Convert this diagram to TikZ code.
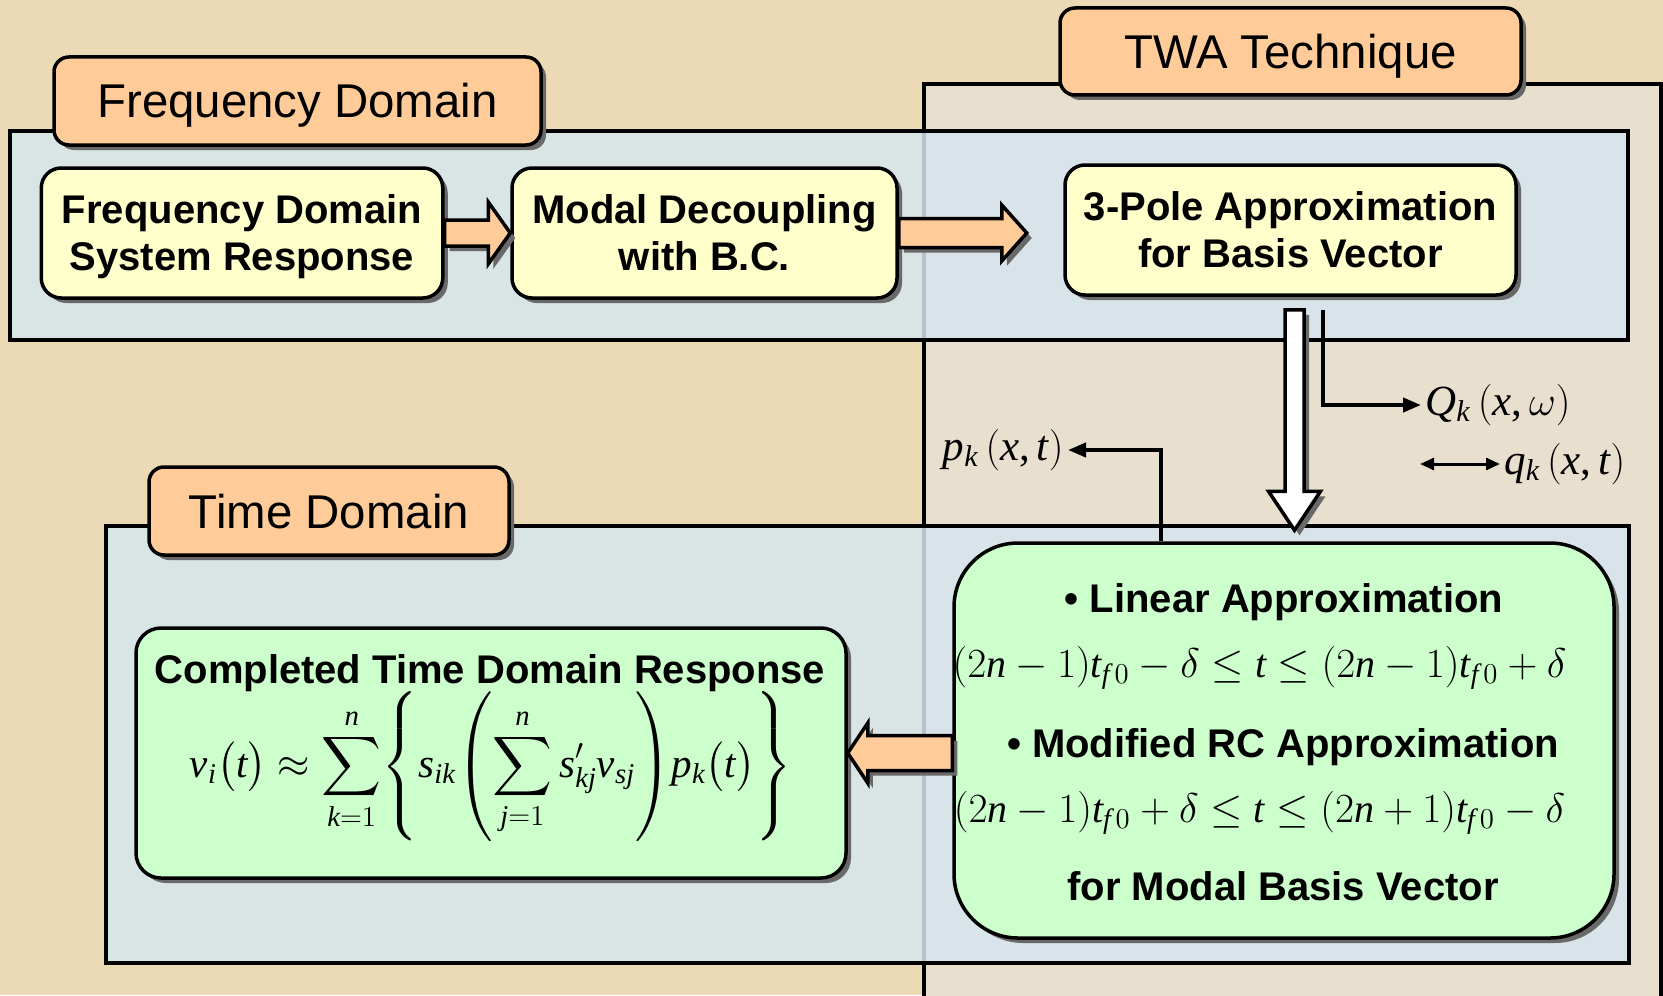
\documentclass[tikz,border=0pt]{standalone}
\usepackage{exscale}
\usepackage{fontspec}
\setmainfont{Liberation Sans}
\newfontfamily\tnr[NFSSFamily=tnr]{Liberation Serif}
\DeclareSymbolFont{tnrletters}{TU}{tnr}{m}{it}
\DeclareSymbolFont{tnrup}{TU}{tnr}{m}{n}
\DeclareMathSymbol{v}{\mathalpha}{tnrletters}{`v}
\DeclareMathSymbol{i}{\mathalpha}{tnrletters}{`i}
\DeclareMathSymbol{t}{\mathalpha}{tnrletters}{`t}
\DeclareMathSymbol{k}{\mathalpha}{tnrletters}{`k}
\DeclareMathSymbol{n}{\mathalpha}{tnrletters}{`n}
\DeclareMathSymbol{s}{\mathalpha}{tnrletters}{`s}
\DeclareMathSymbol{j}{\mathalpha}{tnrletters}{`j}
\DeclareMathSymbol{p}{\mathalpha}{tnrletters}{`p}
\DeclareMathSymbol{f}{\mathalpha}{tnrletters}{`f}
\DeclareMathSymbol{x}{\mathalpha}{tnrletters}{`x}
\DeclareMathSymbol{Q}{\mathalpha}{tnrletters}{`Q}
\DeclareMathSymbol{q}{\mathalpha}{tnrletters}{`q}
\DeclareMathSymbol{0}{\mathalpha}{tnrup}{`0}
\DeclareMathSymbol{1}{\mathalpha}{tnrup}{`1}
\DeclareMathSymbol{2}{\mathalpha}{tnrup}{`2}
\DeclareMathSymbol{+}{\mathbin}{tnrup}{`+}
\DeclareMathSymbol{=}{\mathrel}{tnrup}{`=}
\DeclareMathSymbol{,}{\mathpunct}{tnrup}{`,}
\DeclareMathDelimiter{(}{\mathopen}{tnrup}{`(}{largesymbols}{"00}
\DeclareMathDelimiter{)}{\mathclose}{tnrup}{`)}{largesymbols}{"01}
\usetikzlibrary{calc,shadows,arrows.meta}
\definecolor{bgc}{RGB}{236,218,182}
\definecolor{twac}{RGB}{232,223,207}
\definecolor{bandc}{RGB}{214,230,238}
\definecolor{tabc}{RGB}{255,204,153}
\definecolor{yelc}{RGB}{255,255,204}
\definecolor{grnc}{RGB}{204,255,204}
\definecolor{shc}{RGB}{105,105,105}
\newcommand\tfz{t_{f\,0}}
% block arrow: #1 style, #2 start, #3 tip, #4 shaft half width, #5 head half width, #6 head length
\newcommand\blockarr[6]{%
  \coordinate (hb) at ($(#3)!#6!(#2)$);
  \draw[#1] ($(#2)!#4!90:(#3)$) -- ($(hb)!#4!-90:(#2)$) -- ($(hb)!#5!-90:(#2)$) -- (#3)
    -- ($(hb)!#5!90:(#2)$) -- ($(hb)!#4!90:(#2)$) -- ($(#2)!#4!-90:(#3)$) -- cycle;}
\tikzset{
  shad/.style={drop shadow={shadow xshift=2.5pt, shadow yshift=-2.5pt, fill=shc, opacity=1}},
  band/.style={draw, line width=1.75pt, fill=bandc, fill opacity=0.85},
  tab/.style={draw, line width=1.75pt, fill=tabc, rounded corners=7.5pt, shad, inner sep=0pt,
    text height=17pt, text depth=0pt, font=\fontsize{23.7}{28}\selectfont},
  ybox/.style={draw, line width=1.75pt, fill=yelc, rounded corners=10pt, shad, inner sep=0pt,
    text depth=0pt, align=center, font=\fontsize{20}{23.5}\selectfont\bfseries},
  gbox/.style={draw, line width=1.75pt, fill=grnc, shad, inner sep=0pt},
  btxt/.style={inner sep=0pt, font=\fontsize{20}{24}\selectfont\bfseries},
  mtxt/.style={inner sep=0pt, font=\fontsize{20}{24}\selectfont},
  ftxt/.style={inner sep=0pt, font=\fontsize{20.5}{24}\selectfont},
  mlbl/.style={inner sep=2pt, font=\fontsize{21.5}{24}\selectfont},
  blk/.style={draw, line width=1.75pt, fill=tabc, shad, miter limit=20},
  wblk/.style={draw, line width=1.75pt, fill=white, shad, miter limit=20},
  thinarr/.style={line width=2pt, -{Triangle[length=9pt,width=7pt]}},
  dblarr/.style={line width=1.5pt, {Triangle[length=7pt,width=6pt]}-{Triangle[length=7pt,width=6pt]}},
}
\begin{document}
\begin{tikzpicture}[x=0.5pt,y=-0.5pt]
\useasboundingbox (0,0) rectangle (1663,995);
\fill[bgc] (0,0) rectangle (1663,995);
% TWA region
\draw[line width=1.75pt, fill=twac] (924,1000) -- (924,84) -- (1661,84) -- (1661,1000);
% bands
\draw[band] (10,131) rectangle (1628,340);
\draw[band] (106,526) rectangle (1629,963);
% tabs
\node[tab, minimum width=243.5pt, minimum height=44pt] (fdtab) at (297.5,101) {Frequency Domain};
\node[tab, minimum width=230.5pt, minimum height=43.5pt] (twatab) at (1290.5,51.5) {TWA Technique};
\node[tab, minimum width=180pt, minimum height=44pt] (tdtab) at (329,511) {Time Domain};
% boxes
\node[ybox, minimum width=200.75pt, minimum height=65pt] (fd) at (242,233) {Frequency Domain\\System Response};
\node[ybox, minimum width=192.5pt, minimum height=65pt] (mod) at (704.5,233) {Modal Decoupling\\with B.C.};
\node[ybox, minimum width=225.5pt, minimum height=65pt] (pole) at (1290.5,230) {3-Pole Approximation\\for Basis Vector};
\node[gbox, rounded corners=12.5pt, minimum width=355pt, minimum height=125pt] (lg) at (491,753) {};
\node[gbox, rounded corners=32pt, minimum width=330pt, minimum height=197.5pt] (rg) at (1284,740.5) {};
% texts in green boxes
\node[btxt, anchor=base] (ctitle) at (490,683) {Completed Time Domain Response};
\node[ftxt, anchor=base] (cform) at (491,777) {$\displaystyle v_i\bigl(t\bigr)\approx\sum_{k=1}^{n}\!\left\{s_{ik}\!\left(\sum_{j=1}^{n}s^{\prime}_{kj}v_{sj}\right)\!p_k\bigl(t\bigr)\right\}$};
\node[btxt, anchor=base] (lin) at (1284,612) {• Linear Approximation};
\node[mtxt, anchor=base] (ineqa) at (1259.5,677) {$(2n-1)\tfz-\delta\le t\le(2n-1)\tfz+\delta$};
\node[btxt, anchor=base] (modrc) at (1283,757) {• Modified RC Approximation};
\node[mtxt, anchor=base] (ineqb) at (1259.5,822) {$(2n-1)\tfz+\delta\le t\le(2n+1)\tfz-\delta$};
\node[btxt, anchor=base] (forb) at (1283,900) {for Modal Basis Vector};
% block arrows
\coordinate (t1) at (mod.west |- fd.east);
\blockarr{blk}{fd.east}{t1}{6.5pt}{15.5pt}{11pt}
\coordinate (t2) at ($(mod.east)+(128,0)$);
\blockarr{blk}{mod.east}{t2}{7.25pt}{14pt}{12.5pt}
\coordinate (s3) at (rg.west |- lg.east);
\blockarr{blk}{s3}{lg.east}{8.75pt}{15pt}{10pt}
\coordinate (dtop) at ($(pole.south)+(4,13)$);
\coordinate (dtip) at ($(rg.north)+(10.5,-11)$);
\blockarr{wblk}{dtop}{dtip}{4.75pt}{13pt}{19.5pt}
% labels and thin connectors
\node[mlbl, anchor=west] (Qlab) at (1421,405) {$Q_k\,(x,\omega)$};
\node[mlbl, anchor=west] (qlab) at (1500,464) {$q_k\,(x,t)$};
\node[mlbl, anchor=east] (plab) at (1068,450) {$p_k\,(x,t)$};
\draw[thinarr] ($(pole.south)+(32.5,13)$) |- (Qlab.west);
\coordinate (qa) at (1420,464);
\draw[dblarr] (qa) -- (qlab.west);
\draw[thinarr] ($(rg.north)+(-123,0)$) |- (plab.east);
\end{tikzpicture}
\end{document}
